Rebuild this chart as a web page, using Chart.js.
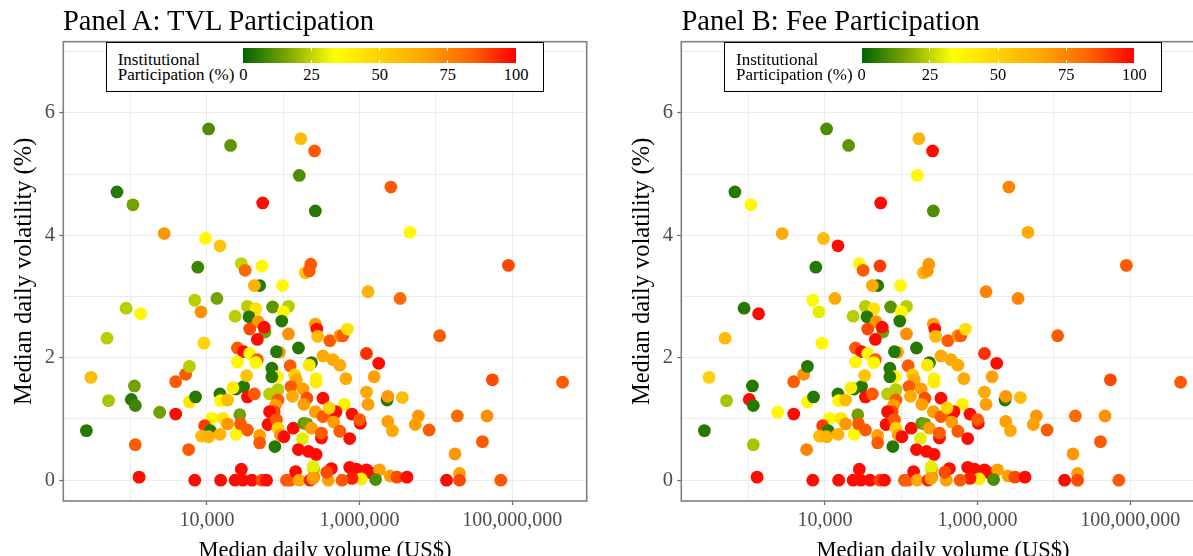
<!DOCTYPE html>
<html>
<head>
<meta charset="utf-8">
<script src="https://cdn.jsdelivr.net/npm/chart.js@4.4.0/dist/chart.umd.min.js"></script>
<style>
  html, body { margin: 0; padding: 0; background: #fff; }
  body { position: relative; width: 1193px; height: 556px; overflow: hidden;
         font-family: "Liberation Serif", "Times New Roman", serif; color: #000; }
  .cv { position: absolute; top: 0; }
  .ptitle { position: absolute; top: 7.1px; font-size: 28.5px; line-height: 28.5px; white-space: nowrap; }
  .lgbox { position: absolute; top: 41.7px; width: 438px; height: 50px; box-sizing: border-box;
           border: 1px solid #000; background: #fff; }
  .lgtext { position: absolute; top: 51.6px; font-size: 17px; line-height: 15.7px; white-space: nowrap; }
  .lgbar { position: absolute; top: 47.7px; width: 272.7px; height: 15px; }
  .lgtick { position: absolute; width: 1px; height: 3px; background: #fff; }
  .lglab { position: absolute; top: 67.2px; font-size: 16.5px; line-height: 16.5px; width: 40px;
           margin-left: -20px; text-align: center; }
</style>
</head>
<body>
<canvas id="cA" class="cv" width="600" height="580" style="left:0"></canvas>
<canvas id="cB" class="cv" width="600" height="580" style="left:618px"></canvas>
<div id="overlay"></div>
<script>
/* Panels A & B: median daily volatility vs median daily volume, coloured by institutional participation. */

// median daily volume (US$), one entry per pool; same pools in both panels
const volume = [
  1.05e4, 2.04e4, 1.70e5, 2.57e5, 1.62e5, 661, 1070, 5.37e4, 2.63e5, 2.57e6,
  2750, 9550, 1.48e4, 4.57e6, 7590, 2.82e4, 3.16e4, 5.25e4, 2.29e5, 1.95e5,
  2.19e5, 8.91e7, 4.90e4, 4.17e4, 9.77e4, 1.29e6, 871, 1350, 6920, 1.35e4,
  8320, 3.39e6, 490, 9120, 302, 1120, 513, 1020, 1150, 2400,
  3890, 5250, 5890, 3890, 5890, 7080, 263, 1150, 5750, 1290,
  6920, 1.51e4, 2.34e4, 2.95e4, 3.89e4, 2.82e4, 5.25e4, 6.03e4, 1.10e5, 1.23e5,
  1.45e5, 1.62e5, 2.24e5, 2.51e5, 2.51e5, 2.34e4, 3.39e4, 4.37e4, 3.55e4, 7.24e4,
  1.17e5, 1.00e5, 9.55e4, 4.68e4, 5.75e4, 5.62e4, 3.63e4, 4.57e4, 1.17e5, 2.51e4,
  3.02e4, 3.63e4, 4.57e4, 2.51e4, 4.37e4, 8.91e4, 8.13e4, 1.58e5, 7.08e4, 1.23e5,
  1.48e4, 1.51e4, 1.86e4, 2.40e4, 3.02e4, 2.19e4, 3.39e4, 4.17e4, 3.31e4, 8.32e4,
  7.08e4, 1.41e5, 1.48e5, 1.26e5, 8.51e4, 6.61e4, 8.51e4, 7.94e4, 7.59e4, 6.61e4,
  1.32e5, 1.82e5, 2.69e4, 1.15e4, 1.62e4, 9330, 1.10e4, 8510, 1.05e4, 1.48e4,
  1.86e4, 2.40e4, 2.75e4, 3.39e4, 4.90e4, 4.90e4, 6.31e4, 8.13e4, 8.51e4, 9.12e4,
  1.02e5, 7.76e4, 1.35e5, 1.86e5, 1.78e5, 1.58e5, 2.14e5, 2.69e5, 2.63e5, 2.75e5,
  2.82e5, 4.07e5, 5.50e5, 6.03e5, 6.92e5, 3.31e5, 4.47e5, 5.50e5, 2.34e5, 2.19e5,
  1.23e6, 1.78e6, 1.12e7, 2.69e5, 2.69e5, 6.61e5, 1.55e6, 1.23e6, 1.29e6, 2.29e6,
  2.34e6, 3.63e6, 2.04e5, 3.31e5, 6.31e5, 1.86e5, 2.63e5, 3.31e5, 4.57e5, 4.90e5,
  3.98e5, 4.57e5, 7.94e5, 1.02e6, 1.00e6, 2.04e5, 2.34e5, 3.16e5, 3.16e5, 5.50e5,
  7.41e5, 2.34e6, 2.69e6, 5.89e6, 5.37e6, 8.13e6, 2.45e5, 4.27e5, 7.41e5, 9.12e5,
  1.23e6, 1.41e6, 1.82e6, 1.62e6, 1.05e6, 7.94e5, 5.89e5, 3.89e5, 2.45e5, 2.51e6,
  3.09e6, 4.17e6, 5.50e7, 4.57e8, 1.91e7, 4.68e7, 4.07e7, 1.78e7, 2.04e7, 2.04e7,
  1.38e7, 7.08e7, 3.72e5,
];
// median daily volatility (%)
const volatility = [
  5.74, 5.47, 5.58, 5.38, 4.98, 4.71, 4.50, 4.53, 4.40, 4.79,
  4.03, 3.95, 3.83, 4.05, 3.48, 3.54, 3.43, 3.50, 3.53, 3.39,
  3.42, 3.51, 3.18, 3.18, 3.18, 3.08, 2.81, 2.72, 2.94, 2.97,
  2.75, 2.97, 2.32, 2.24, 1.68, 1.54, 1.30, 1.32, 1.22, 1.11,
  1.61, 1.73, 1.86, 1.08, 1.28, 1.36, 0.81, 0.58, 0.50, 0.05,
  0, 0, 0, 0, 0, 0.18, 0, 0, 0, 0,
  0.14, 0, 0, 0.18, 0.05, 2.68, 2.84, 2.80, 2.67, 2.83,
  2.84, 2.75, 2.60, 2.59, 2.42, 2.50, 2.47, 2.30, 2.39, 2.16,
  2.10, 2.07, 1.97, 1.93, 1.92, 2.09, 2.10, 2.16, 1.83, 1.87,
  1.41, 1.30, 1.31, 1.49, 1.53, 1.51, 1.36, 1.41, 1.71, 1.69,
  1.69, 1.72, 1.64, 1.53, 1.48, 1.41, 1.31, 1.23, 1.12, 1.12,
  1.37, 1.49, 1.07, 1.01, 1.01, 0.89, 0.81, 0.72, 0.71, 0.75,
  0.92, 0.75, 0.92, 0.82, 0.73, 0.61, 0.91, 0.99, 0.85, 0.74,
  0.71, 0.55, 0.85, 0.93, 0.68, 0.50, 0.47, 0.42, 2.55, 2.47,
  2.35, 2.28, 2.36, 2.36, 2.47, 2.03, 1.97, 1.88, 1.92, 1.88,
  2.07, 1.91, 2.36, 1.66, 1.60, 1.66, 1.69, 1.44, 1.24, 1.31,
  1.37, 1.35, 1.34, 1.34, 1.24, 1.24, 1.12, 1.04, 1.06, 1.12,
  1.18, 0.95, 1.08, 0.93, 0.99, 0.92, 0.85, 0.69, 0.77, 0.80,
  0.68, 0.96, 0.81, 1.05, 0.91, 0.82, 0.22, 0.19, 0.21, 0.18,
  0.17, 0.12, 0.17, 0.01, 0.02, 0.03, 0, 0, 0.03, 0.07,
  0.05, 0.05, 1.64, 1.60, 1.05, 1.05, 0.63, 0.43, 0.11, 0,
  0, 0, 0.13,
];
// institutional participation (%) by TVL — panel A
const tvlPart = [
  10, 12, 58, 85, 10, 5, 15, 98, 5, 85,
  70, 36, 55, 36, 8, 25, 82, 36, 85, 55,
  85, 88, 5, 62, 36, 62, 24, 36, 24, 15,
  72, 82, 24, 50, 58, 15, 22, 5, 8, 15,
  85, 85, 24, 98, 42, 5, 5, 85, 85, 98,
  98, 98, 98, 98, 98, 98, 88, 98, 85, 85,
  98, 65, 95, 24, 75, 24, 24, 45, 5, 12,
  24, 36, 5, 70, 15, 98, 88, 98, 72, 85,
  98, 36, 85, 36, 36, 68, 5, 5, 5, 85,
  5, 36, 58, 5, 5, 40, 98, 85, 55, 36,
  5, 52, 65, 85, 24, 24, 85, 68, 88, 98,
  65, 68, 15, 36, 42, 90, 5, 58, 62, 62,
  70, 36, 85, 85, 68, 85, 98, 85, 50, 68,
  98, 5, 98, 12, 30, 98, 98, 98, 68, 98,
  58, 85, 70, 85, 45, 65, 65, 65, 5, 42,
  92, 98, 85, 38, 40, 65, 68, 65, 68, 5,
  70, 58, 88, 98, 38, 68, 68, 85, 85, 98,
  50, 68, 98, 98, 85, 15, 68, 98, 85, 85,
  98, 68, 65, 70, 68, 85, 30, 98, 98, 98,
  98, 98, 68, 10, 40, 95, 85, 68, 68, 68,
  88, 98, 88, 85, 82, 72, 85, 70, 68, 88,
  98, 85, 88,
];
// institutional participation (%) by fees — panel B
const feePart = [
  10, 12, 62, 98, 36, 5, 36, 98, 10, 75,
  65, 58, 98, 65, 5, 36, 85, 90, 70, 60,
  70, 85, 5, 65, 36, 75, 5, 98, 36, 65,
  30, 75, 58, 36, 50, 5, 22, 98, 5, 36,
  85, 72, 5, 98, 36, 5, 5, 22, 75, 98,
  98, 98, 98, 98, 98, 98, 88, 98, 85, 85,
  98, 65, 95, 24, 75, 24, 24, 45, 5, 12,
  24, 36, 5, 70, 15, 98, 88, 98, 72, 85,
  98, 36, 85, 36, 36, 68, 5, 5, 5, 85,
  5, 36, 58, 5, 5, 40, 98, 85, 55, 36,
  5, 52, 65, 85, 24, 24, 85, 68, 88, 98,
  65, 68, 15, 36, 42, 90, 5, 58, 62, 62,
  70, 36, 85, 85, 68, 85, 98, 85, 50, 68,
  98, 5, 98, 12, 30, 98, 98, 98, 68, 98,
  58, 85, 70, 85, 45, 65, 65, 65, 5, 42,
  92, 98, 85, 38, 40, 65, 68, 65, 68, 5,
  70, 58, 88, 98, 38, 68, 68, 85, 85, 98,
  50, 68, 98, 98, 85, 15, 68, 98, 85, 85,
  98, 68, 65, 70, 68, 85, 30, 98, 98, 98,
  98, 98, 68, 10, 40, 95, 85, 68, 68, 68,
  88, 98, 88, 85, 82, 72, 85, 70, 68, 88,
  98, 85, 88,
];
const xTicks = [1e3, 1e4, 1e5, 1e6, 1e7, 1e8];
const xLabels = { 1e4: "10,000", 1e6: "1,000,000", 1e8: "100,000,000" };
const yTicks = [0, 1, 2, 3, 4, 5, 6, 7];
const legendTicks = [0, 25, 50, 75, 100];

/* ---- colour scale: darkgreen -> yellow -> orange -> red ---- */
const STOPS = [[0, [0, 100, 0]], [1 / 6, [128, 168, 0]], [1 / 3, [255, 255, 0]], [1 / 2, [255, 210, 0]],
               [2 / 3, [255, 165, 0]], [5 / 6, [255, 100, 0]], [1, [255, 0, 0]]];
function partColor(p) {
  const t = Math.max(0, Math.min(1, p / 100));
  for (let i = 1; i < STOPS.length; i++) {
    const [t1, c1] = STOPS[i], [t0, c0] = STOPS[i - 1];
    if (t <= t1) {
      const f = (t - t0) / (t1 - t0);
      return "rgb(" + c0.map((c, k) => Math.round(c + (c1[k] - c) * f)).join(",") + ")";
    }
  }
  return "rgb(255,0,0)";
}

const SERIF = "'Liberation Serif', 'Times New Roman', serif";
const frame = {
  id: "frame",
  afterDraw(chart) {
    const { ctx, chartArea: a } = chart;
    ctx.save();
    ctx.strokeStyle = "#808080";
    ctx.lineWidth = 1.6;
    ctx.strokeRect(a.left, a.top, a.right - a.left, a.bottom - a.top);
    ctx.restore();
  },
};

function panel(canvasId, part) {
  return new Chart(document.getElementById(canvasId), {
    type: "scatter",
    data: {
      datasets: [{
        data: volume.map((v, i) => ({ x: v, y: volatility[i] })),
        backgroundColor: part.map(partColor),
        pointRadius: 6.4, pointHoverRadius: 6.4, borderWidth: 0,
      }],
    },
    options: {
      responsive: false, animation: false, events: [],
      layout: { padding: { top: 41.7, right: 13.3, left: 0, bottom: 0 } },
      plugins: { legend: { display: false }, tooltip: { enabled: false } },
      scales: {
        x: {
          type: "logarithmic", min: 131, max: 9.46e8,
          afterBuildTicks: s => { s.ticks = xTicks.map(v => ({ value: v })); },
          afterFit: s => { s.height = 79; },
          border: { display: false },
          grid: { color: "#EBEBEB", lineWidth: 1, tickLength: 4, tickWidth: 1.2,
                  tickColor: c => (c.tick && xLabels[c.tick.value]) ? "#666" : "rgba(0,0,0,0)" },
          ticks: { autoSkip: false, maxRotation: 0, padding: 4, color: "#4D4D4D",
                   font: { family: SERIF, size: 20 }, callback: v => xLabels[v] || "" },
          title: { display: true, text: "Median daily volume (US$)", color: "#000",
                   font: { family: SERIF, size: 22.5 }, padding: { top: 0, bottom: 15.5 } },
        },
        y: {
          type: "linear", min: -0.34, max: 7.165,
          afterBuildTicks: s => { s.ticks = yTicks.map(v => ({ value: v })); },
          afterFit: s => { s.width = 63.3; },
          border: { display: false },
          grid: { color: "#EBEBEB", lineWidth: 1, tickLength: 4, tickWidth: 1.2,
                  tickColor: c => (c.tick && c.tick.value % 2 === 0) ? "#666" : "rgba(0,0,0,0)" },
          ticks: { padding: 4.4, color: "#4D4D4D", font: { family: SERIF, size: 20.5 },
                   callback: v => (v % 2 === 0 ? String(v) : "") },
          title: { display: true, text: "Median daily volatility (%)", color: "#000",
                   font: { family: SERIF, size: 24.5 }, padding: { top: 10.3, bottom: 0 } },
        },
      },
    },
    plugins: [frame],
  });
}

/* ---- titles and colour-bar legends as page text ---- */
function overlay(dx, title) {
  const host = document.getElementById("overlay");
  const grad = "linear-gradient(to right," + STOPS.map(([t]) => partColor(t * 100) + " " + (t * 100).toFixed(2) + "%").join(",") + ")";
  let html = `<div class="ptitle" style="left:${63 + dx}px">${title}</div>
    <div class="lgbox" style="left:${106 + dx}px"></div>
    <div class="lgtext" style="left:${117.7 + dx}px">Institutional<br>Participation (%)</div>
    <div class="lgbar" style="left:${243.3 + dx}px;background:${grad}"></div>`;
  legendTicks.forEach(t => {
    const x = 243.3 + dx + t / 100 * 272.7;
    if (t > 0 && t < 100) {
      html += `<div class="lgtick" style="left:${x - 0.5}px;top:47.7px"></div>
               <div class="lgtick" style="left:${x - 0.5}px;top:59.7px"></div>`;
    }
    html += `<div class="lglab" style="left:${x}px">${t}</div>`;
  });
  host.insertAdjacentHTML("beforeend", html);
}

panel("cA", tvlPart);
panel("cB", feePart);
overlay(0, "Panel A: TVL Participation");
overlay(618.4, "Panel B: Fee Participation");
</script>
</body>
</html>
